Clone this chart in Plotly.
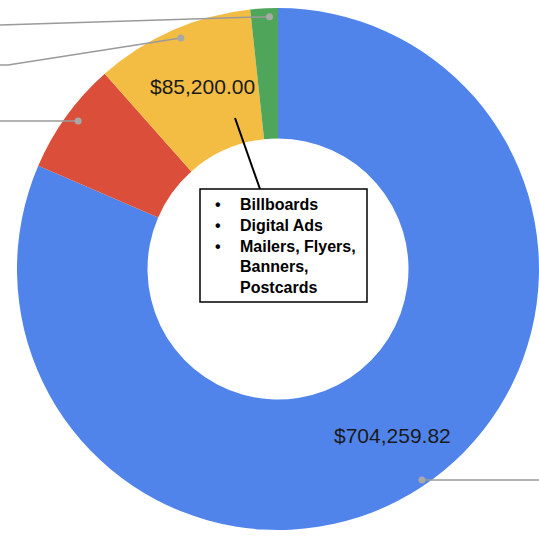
import math
import plotly.graph_objects as go

# ---- data ----
categories = ["Segment A", "Segment B", "Segment C", "Segment D"]
values = [704259.82, 60300.00, 85200.00, 14700.00]
colors = ["#5084EB", "#DB4F3A", "#F2BD42", "#4FA65A"]
show_value = [True, False, True, False]
callout_items = ["Billboards", "Digital Ads", "Mailers, Flyers,<br>Banners,<br>Postcards"]

W, H = 539, 539
# overlay geometry (pixels) for dots / labels
CX, CY, R = 283.0, 269.0, 266.0

def px(x):
    return x / W

def py(y):
    return 1 - y / H

fig = go.Figure(go.Pie(
    labels=categories,
    values=values,
    hole=0.5,
    sort=False,
    direction="clockwise",
    rotation=0,
    marker=dict(colors=colors, line=dict(width=0)),
    textinfo="none",
    hoverinfo="label+value",
    domain=dict(x=[17 / W, 1.0], y=[9 / H, 531 / H]),
    showlegend=False,
))

shapes = []
annotations = []

total = sum(values)
cum = 0.0
mids = []
for v in values:
    a0 = cum / total * 2 * math.pi
    cum += v
    a1 = cum / total * 2 * math.pi
    mids.append((a0 + a1) / 2)

def polar(theta, r):
    return CX + r * math.sin(theta), CY - r * math.cos(theta)

# leader line targets (to cropped outside labels)
leader_paths = {
    0: lambda d: [d, (W, d[1])],
    1: lambda d: [d, (0, d[1])],
    2: lambda d: [d, (8, 65), (0, 65)],
    3: lambda d: [d, (0, 25)],
}

for i, th in enumerate(mids):
    d = polar(th, 0.95 * R)
    pts = leader_paths[i](d)
    path = "M " + " L ".join(f"{px(x)},{py(y)}" for x, y in pts)
    shapes.append(dict(type="path", xref="paper", yref="paper", path=path,
                       line=dict(color="#9a9a9a", width=1.5)))
    rr = 3.5
    shapes.append(dict(type="circle", xref="paper", yref="paper",
                       x0=px(d[0] - rr), x1=px(d[0] + rr),
                       y0=py(d[1] + rr), y1=py(d[1] - rr),
                       fillcolor="#a8a8a8", line=dict(width=0)))
    if show_value[i]:
        lx, ly = polar(th, 0.75 * R)
        annotations.append(dict(
            x=px(lx), y=py(ly), xref="paper", yref="paper",
            text=f"${values[i]:,.2f}", showarrow=False,
            font=dict(family="Liberation Sans, Arial, sans-serif", size=21, color="#1a1a1a"),
            xanchor="center", yanchor="middle"))

# callout box and connector
shapes.append(dict(type="line", xref="paper", yref="paper",
                   x0=px(235), y0=py(118), x1=px(260), y1=py(189),
                   line=dict(color="black", width=2)))
shapes.append(dict(type="rect", xref="paper", yref="paper",
                   x0=px(200), x1=px(367), y0=py(302), y1=py(189),
                   fillcolor="white", line=dict(color="black", width=1.5)))

box_font = dict(family="Liberation Sans, Arial, sans-serif", size=16, color="black")
text_top = 193.5
annotations.append(dict(
    x=px(238), y=py(text_top), xref="paper", yref="paper",
    text="<br>".join(f"<b>{t}</b>" for t in callout_items),
    showarrow=False, align="left", xanchor="left", yanchor="top",
    font=box_font))
annotations.append(dict(
    x=px(218), y=py(text_top), xref="paper", yref="paper",
    text="<br>".join("<b>•</b>" for _ in callout_items),
    showarrow=False, align="center", xanchor="center", yanchor="top",
    font=box_font))

fig.update_layout(
    width=W, height=H,
    margin=dict(l=0, r=0, t=0, b=0),
    paper_bgcolor="white",
    plot_bgcolor="white",
    shapes=shapes,
    annotations=annotations,
)

fig.write_html("out.html")
